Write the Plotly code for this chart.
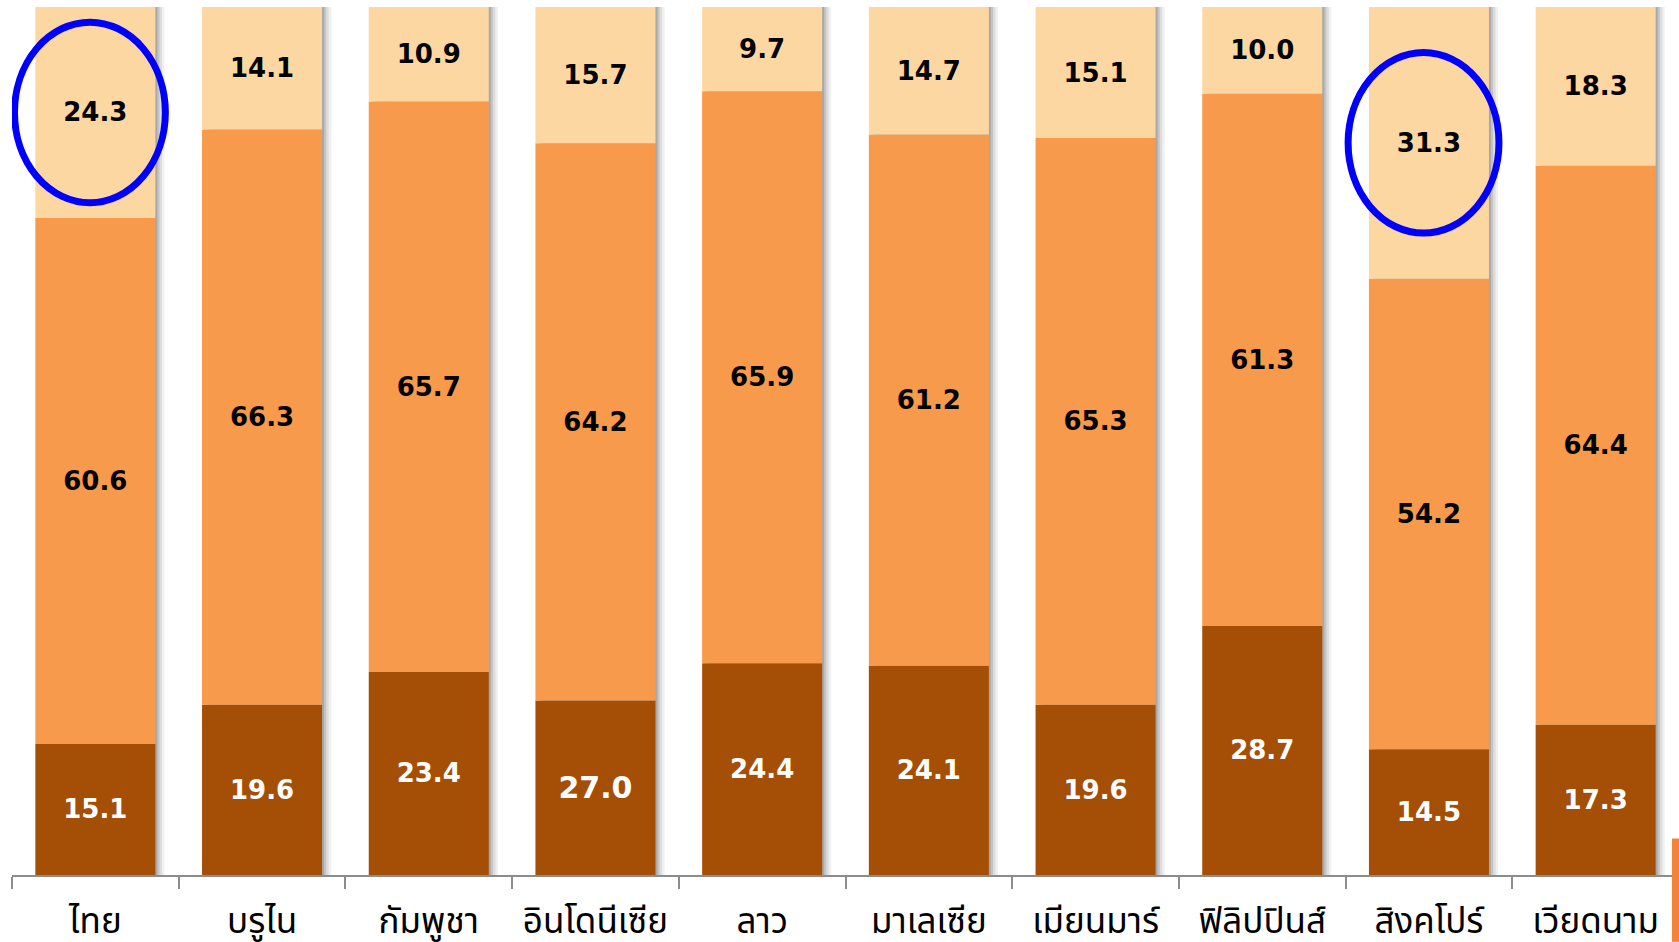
import plotly.graph_objects as go

countries = ["ไทย", "บรูไน", "กัมพูชา", "อินโดนีเซีย", "ลาว",
             "มาเลเซีย", "เมียนมาร์", "ฟิลิปปินส์", "สิงคโปร์", "เวียดนาม"]
# segment heights as drawn (share of population, %)
age_0_14 = [15.1, 19.6, 23.4, 20.1, 24.4, 24.1, 19.6, 28.7, 14.5, 17.3]
age_15_59 = [60.6, 66.3, 65.7, 64.2, 65.9, 61.2, 65.3, 61.3, 54.2, 64.4]
age_60_plus = [24.3, 14.1, 10.9, 15.7, 9.7, 14.7, 15.1, 10.0, 31.3, 18.3]
# value labels as printed on the chart
label_0_14 = ["15.1", "19.6", "23.4", "27.0", "24.4", "24.1", "19.6", "28.7", "14.5", "17.3"]
label_15_59 = ["60.6", "66.3", "65.7", "64.2", "65.9", "61.2", "65.3", "61.3", "54.2", "64.4"]
label_60_plus = ["24.3", "14.1", "10.9", "15.7", "9.7", "14.7", "15.1", "10.0", "31.3", "18.3"]
highlight = ["ไทย", "สิงคโปร์"]

C_DARK = "#A54E05"
C_MID = "#F79A4B"
C_LIGHT = "#FDD7A1"
BW = 0.72

n = len(countries)
totals = [a + b + c for a, b, c in zip(age_0_14, age_15_59, age_60_plus)]
base_mid = age_0_14
base_top = [a + b for a, b in zip(age_0_14, age_15_59)]

fig = go.Figure()
# soft drop shadows
for off, col in [(0.055, "rgba(0,0,0,0.06)"), (0.04, "rgba(0,0,0,0.08)"),
                 (0.025, "rgba(0,0,0,0.11)"), (0.012, "rgba(0,0,0,0.14)")]:
    fig.add_trace(go.Bar(x=countries, y=totals, base=[0] * n, width=BW, offset=-BW / 2 + off,
                         marker=dict(color=col, line=dict(width=0)), hoverinfo="skip", showlegend=False))

FAM = "DejaVu Sans, Verdana, sans-serif"
sizes_0_14 = [26 if t != "27.0" else 30 for t in label_0_14]
fig.add_trace(go.Bar(x=countries, y=age_0_14, base=[0] * n, width=BW, offset=-BW / 2,
                     marker=dict(color=C_DARK, line=dict(width=0)),
                     text=label_0_14, textposition="inside",
                     insidetextanchor="middle", textangle=0,
                     textfont=dict(color="white", family=FAM, size=sizes_0_14, weight="bold"),
                     showlegend=False))
fig.add_trace(go.Bar(x=countries, y=age_15_59, base=base_mid, width=BW, offset=-BW / 2,
                     marker=dict(color=C_MID, line=dict(width=0)),
                     text=label_15_59, textposition="inside",
                     insidetextanchor="middle", textangle=0,
                     textfont=dict(color="black", family=FAM, size=26, weight="bold"),
                     showlegend=False))
fig.add_trace(go.Bar(x=countries, y=age_60_plus, base=base_top, width=BW, offset=-BW / 2,
                     marker=dict(color=C_LIGHT, line=dict(width=0)),
                     text=label_60_plus, textposition="inside",
                     insidetextanchor="middle", textangle=0,
                     textfont=dict(color="black", family=FAM, size=26, weight="bold"),
                     showlegend=False))

# highlight ellipses around the 60+ values
for name in highlight:
    i = countries.index(name)
    cy = base_top[i] + age_60_plus[i] / 2
    fig.add_shape(type="circle", xref="x", yref="y",
                  x0=i - 0.485, x1=i + 0.42, y0=cy - 10.4, y1=cy + 10.4,
                  line=dict(color="#0000FF", width=7), layer="above")

# slide decoration at bottom-right
fig.add_shape(type="rect", xref="paper", yref="paper", x0=0.9958, x1=1.0, y0=-0.077, y1=0.042,
              fillcolor="#F5823A", line=dict(width=0), layer="above")

fig.update_layout(
    width=1679, height=942,
    margin=dict(l=12, r=0, t=7, b=67, autoexpand=False),
    paper_bgcolor="white", plot_bgcolor="white",
    barmode="overlay",
    xaxis=dict(type="category", range=[-0.5, 9.5], automargin=False,
               showline=True, linecolor="#8C8C8C", linewidth=2,
               ticks="outside", ticklen=12, tickcolor="#8C8C8C", tickwidth=2,
               tickson="boundaries", showgrid=False, zeroline=False,
               ticklabelstandoff=14,
               tickfont=dict(family="Tahoma, 'Noto Sans Thai', 'Loma', sans-serif", size=35, color="black")),
    yaxis=dict(range=[0, 100], visible=False, showgrid=False, zeroline=False, automargin=False),
)

fig.write_html("out.html")
